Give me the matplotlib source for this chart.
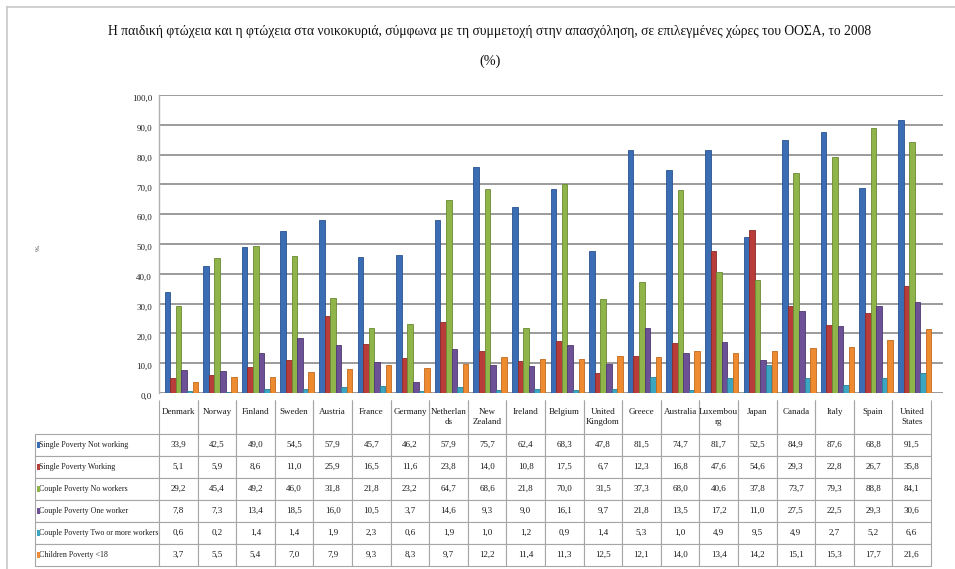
import numpy as np
import matplotlib
matplotlib.use("Agg")
import matplotlib.pyplot as plt
from matplotlib.lines import Line2D
from matplotlib.patches import Rectangle
from matplotlib.ticker import FuncFormatter

plt.rcParams['font.family'] = ['Liberation Serif', 'DejaVu Serif']

# ---- data ----
countries = ["Denmark", "Norway", "Finland", "Sweden", "Austria", "France", "Germany",
             "Netherlands", "New Zealand", "Ireland", "Belgium", "United Kingdom", "Greece",
             "Australia", "Luxembourg", "Japan", "Canada", "Italy", "Spain", "United States"]
# header labels as they wrap in the table
col_labels = ["Denmark", "Norway", "Finland", "Sweden", "Austria", "France", "Germany",
              "Netherlan\nds", "New\nZealand", "Ireland", "Belgium", "United\nKingdom", "Greece",
              "Australia", "Luxembou\nrg", "Japan", "Canada", "Italy", "Spain", "United\nStates"]
series_names = ["Single Poverty Not working", "Single Poverty Working",
                "Couple Poverty No workers", "Couple Poverty One worker",
                "Couple Poverty Two or more workers", "Children Poverty <18"]

single_not_working = [33.9, 42.5, 49.0, 54.5, 57.9, 45.7, 46.2, 57.9, 75.7, 62.4,
                      68.3, 47.8, 81.5, 74.7, 81.7, 52.5, 84.9, 87.6, 68.8, 91.5]
single_working = [5.1, 5.9, 8.6, 11.0, 25.9, 16.5, 11.6, 23.8, 14.0, 10.8,
                  17.5, 6.7, 12.3, 16.8, 47.6, 54.6, 29.3, 22.8, 26.7, 35.8]
couple_no_workers = [29.2, 45.4, 49.2, 46.0, 31.8, 21.8, 23.2, 64.7, 68.6, 21.8,
                     70.0, 31.5, 37.3, 68.0, 40.6, 37.8, 73.7, 79.3, 88.8, 84.1]
couple_one_worker = [7.8, 7.3, 13.4, 18.5, 16.0, 10.5, 3.7, 14.6, 9.3, 9.0,
                     16.1, 9.7, 21.8, 13.5, 17.2, 11.0, 27.5, 22.5, 29.3, 30.6]
couple_two_workers = [0.6, 0.2, 1.4, 1.4, 1.9, 2.3, 0.6, 1.9, 1.0, 1.2,
                      0.9, 1.4, 5.3, 1.0, 4.9, 9.5, 4.9, 2.7, 5.2, 6.6]
children_poverty = [3.7, 5.5, 5.4, 7.0, 7.9, 9.3, 8.3, 9.7, 12.2, 11.4,
                    11.3, 12.5, 12.1, 14.0, 13.4, 14.2, 15.1, 15.3, 17.7, 21.6]

series = [single_not_working, single_working, couple_no_workers,
          couple_one_worker, couple_two_workers, children_poverty]
colors = ['#3A6DB3', '#B83C39', '#8EB44A', '#6C5197', '#3CA5C1', '#EE8A30']
edges = ['#2A5290', '#8E2A28', '#6A8A33', '#4F3872', '#2A7F96', '#C06A1E']

W, H = 955, 569
fig = plt.figure(figsize=(W / 100, H / 100), dpi=100)
fig.patch.set_facecolor('white')

def fx(px):
    return px / W

def fy(py):
    return 1 - py / H

# ---- bar chart ----
ax = fig.add_axes([fx(159), fy(393), fx(943 - 159), (393 - 95) / H])
x = np.arange(len(countries))
bw = 0.145
for k, vals in enumerate(series):
    ax.bar(x + 0.08 + (k - 2.5) * bw, vals, width=bw * 0.97, color=colors[k],
           edgecolor=edges[k], linewidth=0.6, zorder=3)

ax.set_xlim(-0.5, 19.5 + 12 / 38.6)
ax.set_ylim(0, 100)
ax.set_yticks(np.arange(0, 101, 10))
ax.yaxis.set_major_formatter(FuncFormatter(lambda v, p: f"{v:.1f}".replace('.', ',')))
ax.tick_params(axis='y', length=0, labelsize=6.5, pad=5, labelcolor='#222222')
ax.set_xticks([])
ax.grid(axis='y', color='#8a8a8a', linewidth=1.2, zorder=0)
for s in ['top', 'right', 'bottom']:
    ax.spines[s].set_visible(False)
ax.spines['left'].set_color('#b0b0b0')
ax.spines['left'].set_linewidth(1.0)
for lab in ax.get_yticklabels():
    lab.set_verticalalignment('top')

# ---- data table ----
tax = fig.add_axes([fx(35), fy(566), fx(931 - 35), 166 / H])
tax.axis('off')
cell_text = [[""] + [lab if "\n" in lab else lab + "\n " for lab in col_labels]]
for name, vals in zip(series_names, series):
    cell_text.append([" " + name] + [f"{v:.1f}".replace('.', ',') for v in vals])

tbl = tax.table(cellText=cell_text, bbox=[0, 0, 1, 1], cellLoc='center')
tbl.auto_set_font_size(False)
tbl.set_fontsize(6.5)
label_w, col_w = 124, 38.6
for (r, c), cell in tbl.get_celld().items():
    cell.set_width(label_w if c == 0 else col_w)
    cell.set_height(34 if r == 0 else 22)
    cell.set_edgecolor('#a6a6a6')
    cell.set_linewidth(0.8)
    cell.get_text().set_color('#1a1a1a')
    if r == 0:
        cell.visible_edges = '' if c == 0 else 'BLR'
    if c == 0 and r > 0:
        cell.get_text().set_horizontalalignment('left')
        cell.PAD = 0.02
        cell.get_text().set_fontsize(5.7)

# colored legend keys in the row label cells
for k in range(len(series)):
    yc = 1 - (34 + 22 * k + 11) / 166
    tax.add_patch(Rectangle((2 / 896, yc - 2.5 / 166), 3 / 896, 6 / 166,
                            facecolor=colors[k], edgecolor='none',
                            transform=tax.transAxes, clip_on=False))

# ---- titles and frame ----
fig.text(fx(490), fy(32), "Η παιδική φτώχεια και η φτώχεια στα νοικοκυριά, σύμφωνα με τη "
         "συμμετοχή στην απασχόληση, σε επιλεγμένες χώρες του ΟΟΣΑ, το 2008",
         ha='center', va='center', fontsize=9.8, color='#111111')
fig.text(fx(490), fy(61), "(%)", ha='center', va='center', fontsize=10.3, color='#111111')
fig.text(fx(35), fy(248), "%", ha='center', va='center', fontsize=5, rotation=-90,
         color='#333333')

fig.add_artist(Line2D([fx(7), fx(7)], [0, fy(7)], color='#c8c8c8', linewidth=1.2))
fig.add_artist(Line2D([fx(7), 1], [fy(7), fy(7)], color='#c8c8c8', linewidth=1.2))

fig.savefig("out.png", dpi=100)
